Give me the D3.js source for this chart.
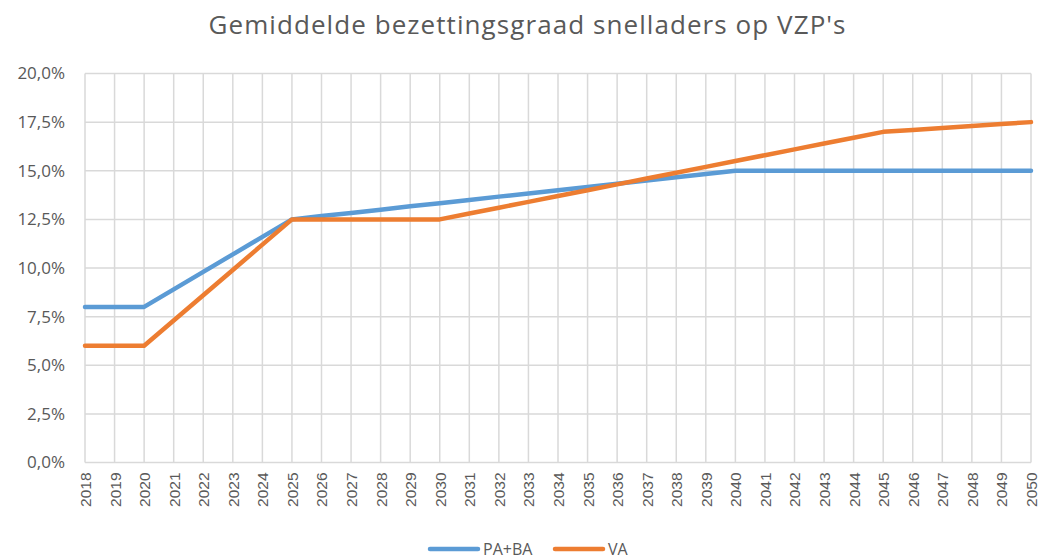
<!DOCTYPE html>
<html>
<head>
<meta charset="utf-8">
<script src="https://cdn.jsdelivr.net/npm/d3@7"></script>
<style>
  html, body { margin: 0; padding: 0; background: #fff; }
  svg { display: block; font-family: "Open Sans", Lato, "Liberation Sans", sans-serif; }
</style>
</head>
<body>
<svg id="chart" width="1041" height="560"></svg>
<script>
// Jaren en gemiddelde bezettingsgraad (%) per type laadpunt
const years = d3.range(2018, 2051);
const paBa = [8.0, 8.0, 8.0, 8.9, 9.8, 10.7, 11.6, 12.5,
  12.67, 12.83, 13.0, 13.17, 13.33, 13.5, 13.67, 13.83, 14.0, 14.17,
  14.33, 14.5, 14.67, 14.83, 15.0,
  15.0, 15.0, 15.0, 15.0, 15.0, 15.0, 15.0, 15.0, 15.0, 15.0];
const va = [6.0, 6.0, 6.0, 7.3, 8.6, 9.9, 11.2, 12.5,
  12.5, 12.5, 12.5, 12.5, 12.5, 12.8, 13.1, 13.4, 13.7, 14.0,
  14.3, 14.6, 14.9, 15.2, 15.5, 15.8, 16.1, 16.4, 16.7, 17.0,
  17.1, 17.2, 17.3, 17.4, 17.5];
const yTicks = [0, 2.5, 5, 7.5, 10, 12.5, 15, 17.5, 20];
const seriesNames = ["PA+BA", "VA"];
const seriesColors = ["#5B9BD5", "#ED7D31"];

const svg = d3.select("#chart");
const textColor = "#595959";
const gridColor = "#D9D9D9";

const x = d3.scaleLinear().domain([2018, 2050]).range([85, 1031]);
const y = d3.scaleLinear().domain([0, 20]).range([462.5, 73.5]);

// Titel
svg.append("text")
  .attr("x", 527).attr("y", 34)
  .attr("text-anchor", "middle")
  .attr("font-size", 26)
  .attr("textLength", 637)
  .attr("fill", textColor)
  .text("Gemiddelde bezettingsgraad snelladers op VZP's");

// Rasterlijnen
const grid = svg.append("g");
grid.selectAll("line.v").data(years).join("line")
  .attr("class", "v")
  .attr("x1", d => x(d)).attr("x2", d => x(d))
  .attr("y1", y(20)).attr("y2", y(0))
  .attr("stroke", gridColor).attr("stroke-width", 1.5);
grid.selectAll("line.h").data(yTicks).join("line")
  .attr("class", "h")
  .attr("x1", x(2018)).attr("x2", x(2050))
  .attr("y1", d => y(d)).attr("y2", d => y(d))
  .attr("stroke", gridColor).attr("stroke-width", 1.5);

// Y-as labels
const fmt = v => v.toFixed(1).replace(".", ",") + "%";
const yAxis = d3.axisLeft(y).tickValues(yTicks).tickFormat(fmt).tickSize(0).tickPadding(0);
const yg = svg.append("g").attr("transform", "translate(65,0)").call(yAxis);
yg.select(".domain").remove();
yg.selectAll("text").attr("font-size", 17).attr("fill", textColor)
  .attr("font-family", "'Open Sans', sans-serif");

// X-as labels (gedraaid)
const xAxis = d3.axisBottom(x).tickValues(years).tickFormat(d3.format("d")).tickSize(0).tickPadding(0);
const xg = svg.append("g").attr("transform", `translate(0,${y(0)})`).call(xAxis);
xg.select(".domain").remove();
xg.selectAll("text")
  .attr("font-size", 15.5).attr("fill", textColor)
  .attr("font-family", "'Liberation Sans', Arial, sans-serif")
  .attr("transform", "rotate(-90)")
  .attr("text-anchor", "end")
  .attr("x", -10).attr("y", 0).attr("dy", "0.35em");

// Lijnen
const line = d3.line().x((d, i) => x(years[i])).y(d => y(d));
[paBa, va].forEach((vals, i) => {
  svg.append("path")
    .datum(vals)
    .attr("d", line)
    .attr("fill", "none")
    .attr("stroke", seriesColors[i])
    .attr("stroke-width", 4.5)
    .attr("stroke-linejoin", "round")
    .attr("stroke-linecap", "round");
});

// Legenda
const legendX = [430, 555];
seriesNames.forEach((name, i) => {
  const g = svg.append("g").attr("transform", `translate(${legendX[i]},549)`);
  g.append("line").attr("x1", 0).attr("x2", 48).attr("y1", 0).attr("y2", 0)
    .attr("stroke", seriesColors[i]).attr("stroke-width", 4.5).attr("stroke-linecap", "round");
  g.append("text").attr("x", 53).attr("y", 0).attr("dy", "0.35em")
    .attr("font-size", 16).attr("fill", textColor).text(name);
});
</script>
</body>
</html>
